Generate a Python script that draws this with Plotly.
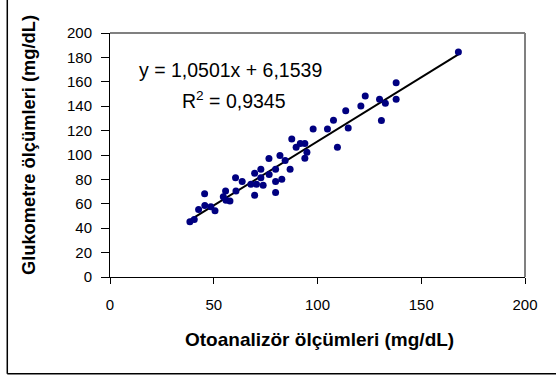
import plotly.graph_objects as go

# Data (Otoanalizör vs Glukometre, mg/dL)
otoanalizor = [38.5, 40.6, 42.7, 45.6, 45.7, 48.6, 50.6, 54.6, 55.7, 55.9,
               57.8, 60.5, 60.7, 63.7, 67.9, 69.7, 69.7, 70.6, 72.7, 72.7,
               73.8, 76.6, 76.7, 79.8, 79.8, 79.8, 81.9, 82.8, 84.4, 86.8,
               87.6, 89.7, 91.7, 93.9, 93.9, 94.9, 97.9, 104.8, 107.7, 109.6,
               113.6, 114.8, 120.9, 123.0, 129.9, 130.8, 132.7, 137.9, 137.9, 167.9]
glukometre = [45.3, 47.2, 55.4, 68.2, 58.7, 57.6, 54.3, 65.8, 70.4, 63.0,
              62.2, 81.3, 70.4, 78.3, 76.1, 85.1, 67.1, 76.1, 88.4, 81.3,
              75.3, 97.1, 84.0, 88.4, 78.3, 69.3, 99.6, 80.2, 95.5, 88.4,
              113.2, 106.4, 109.4, 109.4, 97.4, 102.3, 121.4, 121.4, 128.5, 106.4,
              136.2, 122.2, 140.2, 148.4, 145.7, 128.2, 142.4, 159.3, 145.7, 184.5]

slope = 1.0501
intercept = 6.1539
r_squared = 0.9345

x_ticks = [0, 50, 100, 150, 200]
y_ticks = [0, 20, 40, 60, 80, 100, 120, 140, 160, 180, 200]

x_title = "Otoanalizör ölçümleri (mg/dL)"
y_title = "Glukometre ölçümleri (mg/dL)"
eq_text = "y = 1,0501x + 6,1539"
r2_text = "R<sup>2</sup> = 0,9345"

font_family = "Liberation Sans, Arial, sans-serif"

x_line = [min(otoanalizor), max(otoanalizor)]
y_line = [slope * v + intercept for v in x_line]

fig = go.Figure()
fig.add_trace(go.Scatter(
    x=x_line, y=y_line, mode="lines",
    line=dict(color="black", width=2), hoverinfo="skip", showlegend=False))
fig.add_trace(go.Scatter(
    x=otoanalizor, y=glukometre, mode="markers",
    marker=dict(color="#000080", size=7), showlegend=False))

axis_common = dict(
    showgrid=False, zeroline=False, showline=True, linecolor="black", linewidth=1,
    ticks="outside", tickcolor="black", tickwidth=1, automargin=False,
    tickfont=dict(family=font_family, size=15, color="black"),
    fixedrange=True,
)

fig.update_layout(
    width=556, height=376,
    margin=dict(l=110, r=31, t=33, b=99),
    paper_bgcolor="white", plot_bgcolor="white",
    font=dict(family=font_family, color="black"),
    xaxis=dict(range=[0, 200], tickvals=x_ticks, ticklen=6, ticklabelstandoff=8,
               **axis_common),
    yaxis=dict(range=[0, 200], tickvals=y_ticks, ticklen=8, ticklabelstandoff=6,
               **axis_common),
    shapes=[
        # plot-area frame (grey top and right)
        dict(type="line", xref="paper", yref="paper", x0=0, x1=1, y0=1, y1=1,
             line=dict(color="#808080", width=2)),
        dict(type="line", xref="paper", yref="paper", x0=1, x1=1, y0=0, y1=1,
             line=dict(color="#808080", width=2)),
        # outer chart frame (left and bottom edges visible)
        dict(type="line", xref="paper", yref="paper", x0=-0.2475, x1=-0.2475, y0=-0.397, y1=1.2,
             line=dict(color="black", width=1.5)),
        dict(type="line", xref="paper", yref="paper", x0=-0.2475, x1=1.2, y0=-0.397, y1=-0.397,
             line=dict(color="black", width=1.5)),
    ],
    annotations=[
        dict(x=58.2, y=169.5, xref="x", yref="y", text=eq_text, showarrow=False,
             font=dict(size=19.5, family=font_family, color="black")),
        dict(x=59.6, y=145.0, xref="x", yref="y", text=r2_text, showarrow=False,
             font=dict(size=19.5, family=font_family, color="black")),
        dict(x=0.505, y=-0.258, xref="paper", yref="paper", text="<b>" + x_title + "</b>",
             showarrow=False, xanchor="center", yanchor="middle",
             font=dict(size=19, family=font_family, color="black")),
        dict(x=-0.195, y=0.541, xref="paper", yref="paper", text="<b>" + y_title + "</b>",
             showarrow=False, xanchor="center", yanchor="middle", textangle=-90,
             font=dict(size=18.3, family=font_family, color="black")),
    ],
)

fig.write_html("out.html", config={"displayModeBar": False},
               post_script="document.body.style.margin='0';document.body.style.padding='0';"
                           "document.body.style.overflow='hidden';")
